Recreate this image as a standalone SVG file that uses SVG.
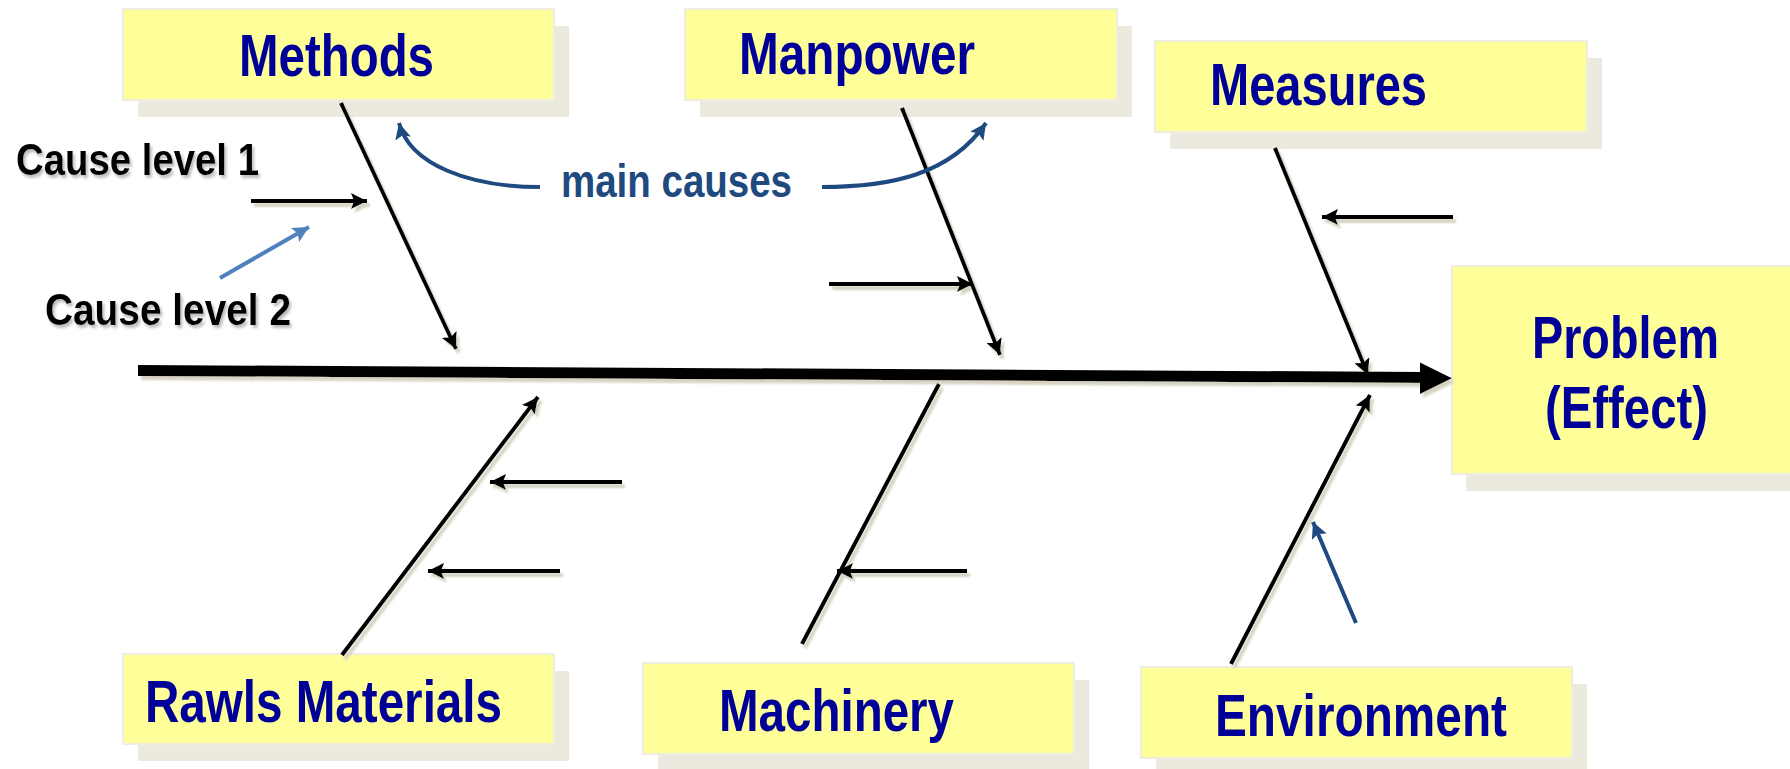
<svg xmlns="http://www.w3.org/2000/svg" width="1790" height="769" viewBox="0 0 1790 769">
  <style>
    .box { fill: #ffff99; stroke: #efece0; stroke-width: 2; }
    .shadow { fill: #ece9df; }
    .label { font-family: "Liberation Sans", Arial, sans-serif; font-weight: bold; font-size: 59px; fill: #000099; }
    .cause { font-family: "Liberation Sans", Arial, sans-serif; font-weight: bold; font-size: 45px; fill: #000000; }
    .note { font-family: "Liberation Sans", Arial, sans-serif; font-weight: bold; font-size: 46px; fill: #1f4a7f; }
    .bone { stroke: #000000; stroke-width: 4; fill: none; }
    .sub { stroke: #000000; stroke-width: 4; fill: none; marker-end: url(#head); }
    .hint-dark { stroke: #1f4a7f; stroke-width: 4; fill: none; marker-end: url(#head-dark); }
    .hint-light { stroke: #4f81bd; stroke-width: 4; fill: none; marker-end: url(#head-light); }
  </style>
  <defs>
    <marker id="head" markerUnits="userSpaceOnUse" markerWidth="18" markerHeight="16" refX="16" refY="8" orient="auto">
      <path d="M0,0 L16,8 L0,16 L3,8 Z" fill="#000000"/>
    </marker>
    <marker id="head-dark" markerUnits="userSpaceOnUse" markerWidth="18" markerHeight="16" refX="16" refY="8" orient="auto">
      <path d="M0,0 L16,8 L0,16 L3,8 Z" fill="#1f4a7f"/>
    </marker>
    <marker id="head-light" markerUnits="userSpaceOnUse" markerWidth="18" markerHeight="16" refX="16" refY="8" orient="auto">
      <path d="M0,0 L16,8 L0,16 L3,8 Z" fill="#4f81bd"/>
    </marker>
    <filter id="line-shadow" x="-10%" y="-10%" width="120%" height="120%">
      <feDropShadow dx="3" dy="4" stdDeviation="0.8" flood-color="#d6d3c3" flood-opacity="1"/>
    </filter>
    <filter id="text-shadow" x="-5%" y="-20%" width="110%" height="140%">
      <feDropShadow dx="2" dy="3" stdDeviation="1.5" flood-color="#8c8c8c" flood-opacity="0.6"/>
    </filter>
  </defs>

  <rect width="1790" height="769" fill="#ffffff"/>

  <!-- effect box at the head of the fish -->
  <g id="problem">
    <rect class="shadow" x="1466" y="283" width="340" height="208"/>
    <rect class="box" x="1452" y="266" width="350" height="208"/>
    <text class="label" x="1532" y="358" textLength="187" lengthAdjust="spacingAndGlyphs">Problem</text>
    <text class="label" x="1545" y="428" textLength="163" lengthAdjust="spacingAndGlyphs">(Effect)</text>
  </g>

  <!-- category boxes -->
  <g id="methods">
    <rect class="shadow" x="138" y="26" width="431" height="91"/>
    <rect class="box" x="123" y="9" width="431" height="91"/>
    <text class="label" x="239" y="76" textLength="195" lengthAdjust="spacingAndGlyphs">Methods</text>
  </g>
  <g id="manpower">
    <rect class="shadow" x="700" y="26" width="432" height="91"/>
    <rect class="box" x="685" y="9" width="432" height="91"/>
    <text class="label" x="739" y="74" textLength="236" lengthAdjust="spacingAndGlyphs">Manpower</text>
  </g>
  <g id="measures">
    <rect class="shadow" x="1170" y="58" width="432" height="91"/>
    <rect class="box" x="1155" y="41" width="432" height="91"/>
    <text class="label" x="1210" y="105" textLength="217" lengthAdjust="spacingAndGlyphs">Measures</text>
  </g>
  <g id="raw-materials">
    <rect class="shadow" x="138" y="671" width="431" height="90"/>
    <rect class="box" x="123" y="654" width="431" height="90"/>
    <text class="label" x="145" y="722" textLength="357" lengthAdjust="spacingAndGlyphs">Rawls Materials</text>
  </g>
  <g id="machinery">
    <rect class="shadow" x="658" y="680" width="431" height="91"/>
    <rect class="box" x="643" y="663" width="431" height="91"/>
    <text class="label" x="719" y="731" textLength="235" lengthAdjust="spacingAndGlyphs">Machinery</text>
  </g>
  <g id="environment">
    <rect class="shadow" x="1156" y="684" width="431" height="91"/>
    <rect class="box" x="1141" y="667" width="431" height="91"/>
    <text class="label" x="1215" y="736" textLength="292" lengthAdjust="spacingAndGlyphs">Environment</text>
  </g>

  <!-- legend texts -->
  <g id="cause-level-1" filter="url(#text-shadow)">
    <text class="cause" x="16" y="175" textLength="243" lengthAdjust="spacingAndGlyphs">Cause level 1</text>
  </g>
  <g id="cause-level-2" filter="url(#text-shadow)">
    <text class="cause" x="45" y="325" textLength="246" lengthAdjust="spacingAndGlyphs">Cause level 2</text>
  </g>
  <g id="main-causes">
    <text class="note" x="561" y="197" textLength="231" lengthAdjust="spacingAndGlyphs">main causes</text>
  </g>

  <!-- spine, bones and sub-cause arrows -->
  <g id="connectors">
    <g filter="url(#line-shadow)">
      <line x1="138" y1="370.5" x2="1424" y2="377.5" stroke="#000000" stroke-width="11"/>
      <polygon points="1420,362.5 1452,378.3 1420,394" fill="#000000"/>

      <line class="sub" x1="341" y1="103" x2="456" y2="349"/>
      <line class="sub" x1="902" y1="108" x2="1000" y2="355"/>
      <line class="sub" x1="1275" y1="148" x2="1368" y2="375"/>
      <line class="sub" x1="342" y1="655" x2="538" y2="397"/>
      <line class="bone" x1="802" y1="644" x2="939" y2="384"/>
      <line class="sub" x1="1231" y1="664" x2="1370" y2="395"/>

      <line class="sub" x1="251" y1="201" x2="367" y2="201"/>
      <line class="sub" x1="829" y1="284" x2="973" y2="284"/>
      <line class="sub" x1="1453" y1="217" x2="1322" y2="217"/>
      <line class="sub" x1="622" y1="482" x2="490" y2="482"/>
      <line class="sub" x1="560" y1="571" x2="428" y2="571"/>
      <line class="sub" x1="967" y1="571" x2="837" y2="571"/>
    </g>

    <path class="hint-dark" d="M540,187 C470,187 410,165 399,123"/>
    <path class="hint-dark" d="M822,187 C890,187 950,175 986,123"/>
    <line class="hint-light" x1="220" y1="278" x2="309" y2="227"/>
    <line class="hint-dark" x1="1356" y1="623" x2="1313" y2="522"/>
  </g>
</svg>
